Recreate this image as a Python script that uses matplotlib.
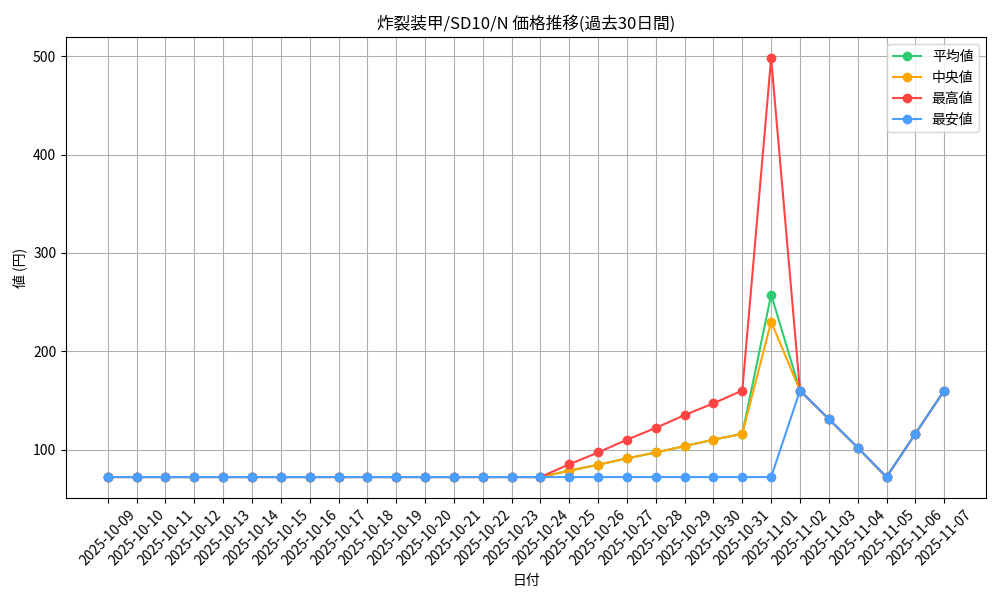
import matplotlib
matplotlib.use("Agg")
import matplotlib.pyplot as plt

plt.rcParams['font.family'] = ['Noto Sans CJK JP', 'DejaVu Sans']

dates = ["2025-10-09", "2025-10-10", "2025-10-11", "2025-10-12", "2025-10-13",
         "2025-10-14", "2025-10-15", "2025-10-16", "2025-10-17", "2025-10-18",
         "2025-10-19", "2025-10-20", "2025-10-21", "2025-10-22", "2025-10-23",
         "2025-10-24", "2025-10-25", "2025-10-26", "2025-10-27", "2025-10-28",
         "2025-10-29", "2025-10-30", "2025-10-31", "2025-11-01", "2025-11-02",
         "2025-11-03", "2025-11-04", "2025-11-05", "2025-11-06", "2025-11-07"]

base = [72] * 16
avg_vals = base + [78.5, 84.5, 91, 97, 103.5, 110, 116, 257.5, 160, 131, 102, 72, 116, 160]
median_vals = base + [78.5, 84.5, 91, 97, 103.5, 110, 116, 230, 160, 131, 102, 72, 116, 160]
max_vals = base + [85, 97, 110, 122, 135, 147, 160, 498, 160, 131, 102, 72, 116, 160]
min_vals = base + [72, 72, 72, 72, 72, 72, 72, 72, 160, 131, 102, 72, 116, 160]

series = [
    ("平均値", avg_vals, "#2ecc71"),
    ("中央値", median_vals, "#ffa500"),
    ("最高値", max_vals, "#ff4444"),
    ("最安値", min_vals, "#4a9eff"),
]

fig, ax = plt.subplots(figsize=(10, 6), dpi=100)
x = list(range(len(dates)))
for name, vals, color in series:
    ax.plot(x, vals, marker="o", color=color, label=name, linewidth=1.5, markersize=6)

ax.set_xticks(x)
ax.set_xticklabels(dates, rotation=45, ha="center")
ax.set_title("炸裂装甲/SD10/N 価格推移(過去30日間)")
ax.set_xlabel("日付")
ax.set_ylabel("値 (円)")
ax.grid(True, color="#b0b0b0")
ax.legend(loc="upper right")
fig.subplots_adjust(left=0.066, right=0.986, top=0.938, bottom=0.17)
fig.savefig("out.png")
